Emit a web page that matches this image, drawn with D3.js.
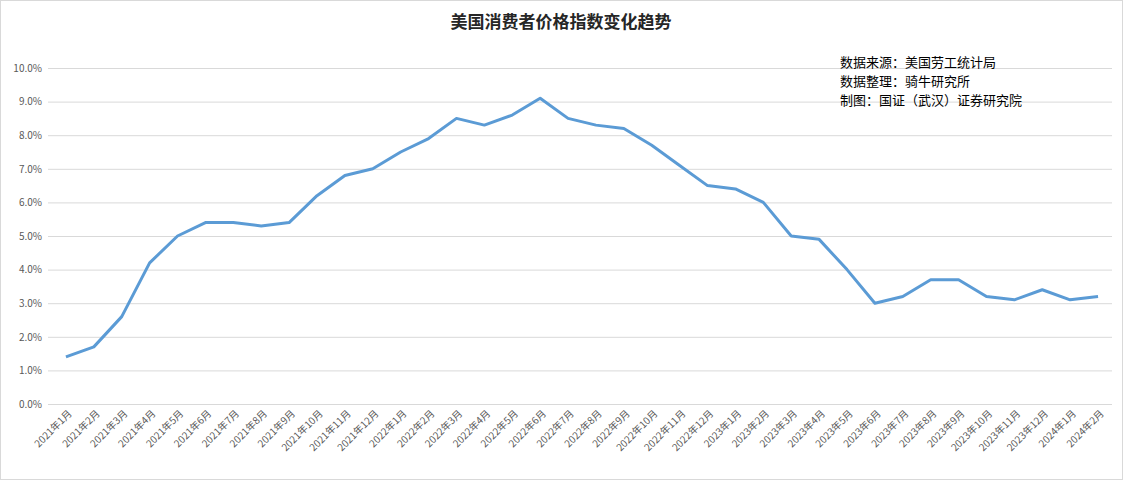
<!DOCTYPE html>
<html><head><meta charset="utf-8">
<script src="https://cdn.jsdelivr.net/npm/d3@7"></script>
<style>body{margin:0;background:#fff}svg{display:block}</style>
</head><body><svg width="1123" height="480"></svg>
<script>
var months = [];
[2021, 2022, 2023, 2024].forEach(function(y){
    for (var m = 1; m <= 12; m++) {
        if (y == 2024 && m > 2) break;
        months.push(y + "年" + m + "月");
    }
});
var cpi = [1.4,1.7,2.6,4.2,5.0,5.4,5.4,5.3,5.4,6.2,6.8,7.0,
           7.5,7.9,8.5,8.3,8.6,9.1,8.5,8.3,8.2,7.7,7.1,6.5,
           6.4,6.0,5.0,4.9,4.0,3.0,3.2,3.7,3.7,3.2,3.1,3.4,
           3.1,3.2];
var yTicks = d3.range(0, 11);
var notes = ["数据来源：美国劳工统计局", "数据整理：骑牛研究所", "制图：国证（武汉）证券研究院"];

var svg = d3.select("svg");
var font = "'Noto Sans CJK SC', sans-serif";
svg.append("rect").attr("x",0.5).attr("y",0.5).attr("width",1122).attr("height",479)
    .attr("fill","#fff").attr("stroke","#d9d9d9");

var x = d3.scalePoint().domain(months).range([52, 1112]).padding(0.5);
var y = d3.scaleLinear().domain([0, 10]).range([404, 68]);

var gy = svg.append("g").attr("transform","translate(48,0)")
    .call(d3.axisLeft(y).tickValues(yTicks).tickSize(-1064).tickFormat(function(d){ return d.toFixed(1) + "%"; }));
gy.select(".domain").remove();
gy.selectAll("line").attr("stroke","#d9d9d9");
gy.selectAll("text").attr("x",-6).attr("fill","#595959").style("font-family",font).style("font-size","10px");

var gx = svg.append("g").attr("transform","translate(0,404)")
    .call(d3.axisBottom(x).tickSize(0));
gx.select(".domain").remove();
gx.selectAll("text").attr("fill","#595959").style("font-family",font).style("font-size","10px")
    .attr("text-anchor","end").attr("dy",0).attr("transform","translate(4,8) rotate(-45)");

svg.append("path").datum(cpi)
    .attr("fill","none").attr("stroke","#5b9bd5").attr("stroke-width",3).attr("stroke-linejoin","round")
    .attr("d", d3.line().x(function(d,i){ return x(months[i]); }).y(function(d){ return y(d); }));

svg.append("text").attr("x",561).attr("y",28).attr("text-anchor","middle")
    .style("font-family",font).style("font-size","17px").style("font-weight","bold").attr("fill","#262626")
    .text("美国消费者价格指数变化趋势");

svg.selectAll(".note").data(notes).enter().append("text")
    .attr("x",840).attr("y",function(d,i){ return 67 + i*19; })
    .style("font-family",font).style("font-size","13px").attr("fill","#000")
    .text(function(d){ return d; });
</script></body></html>
